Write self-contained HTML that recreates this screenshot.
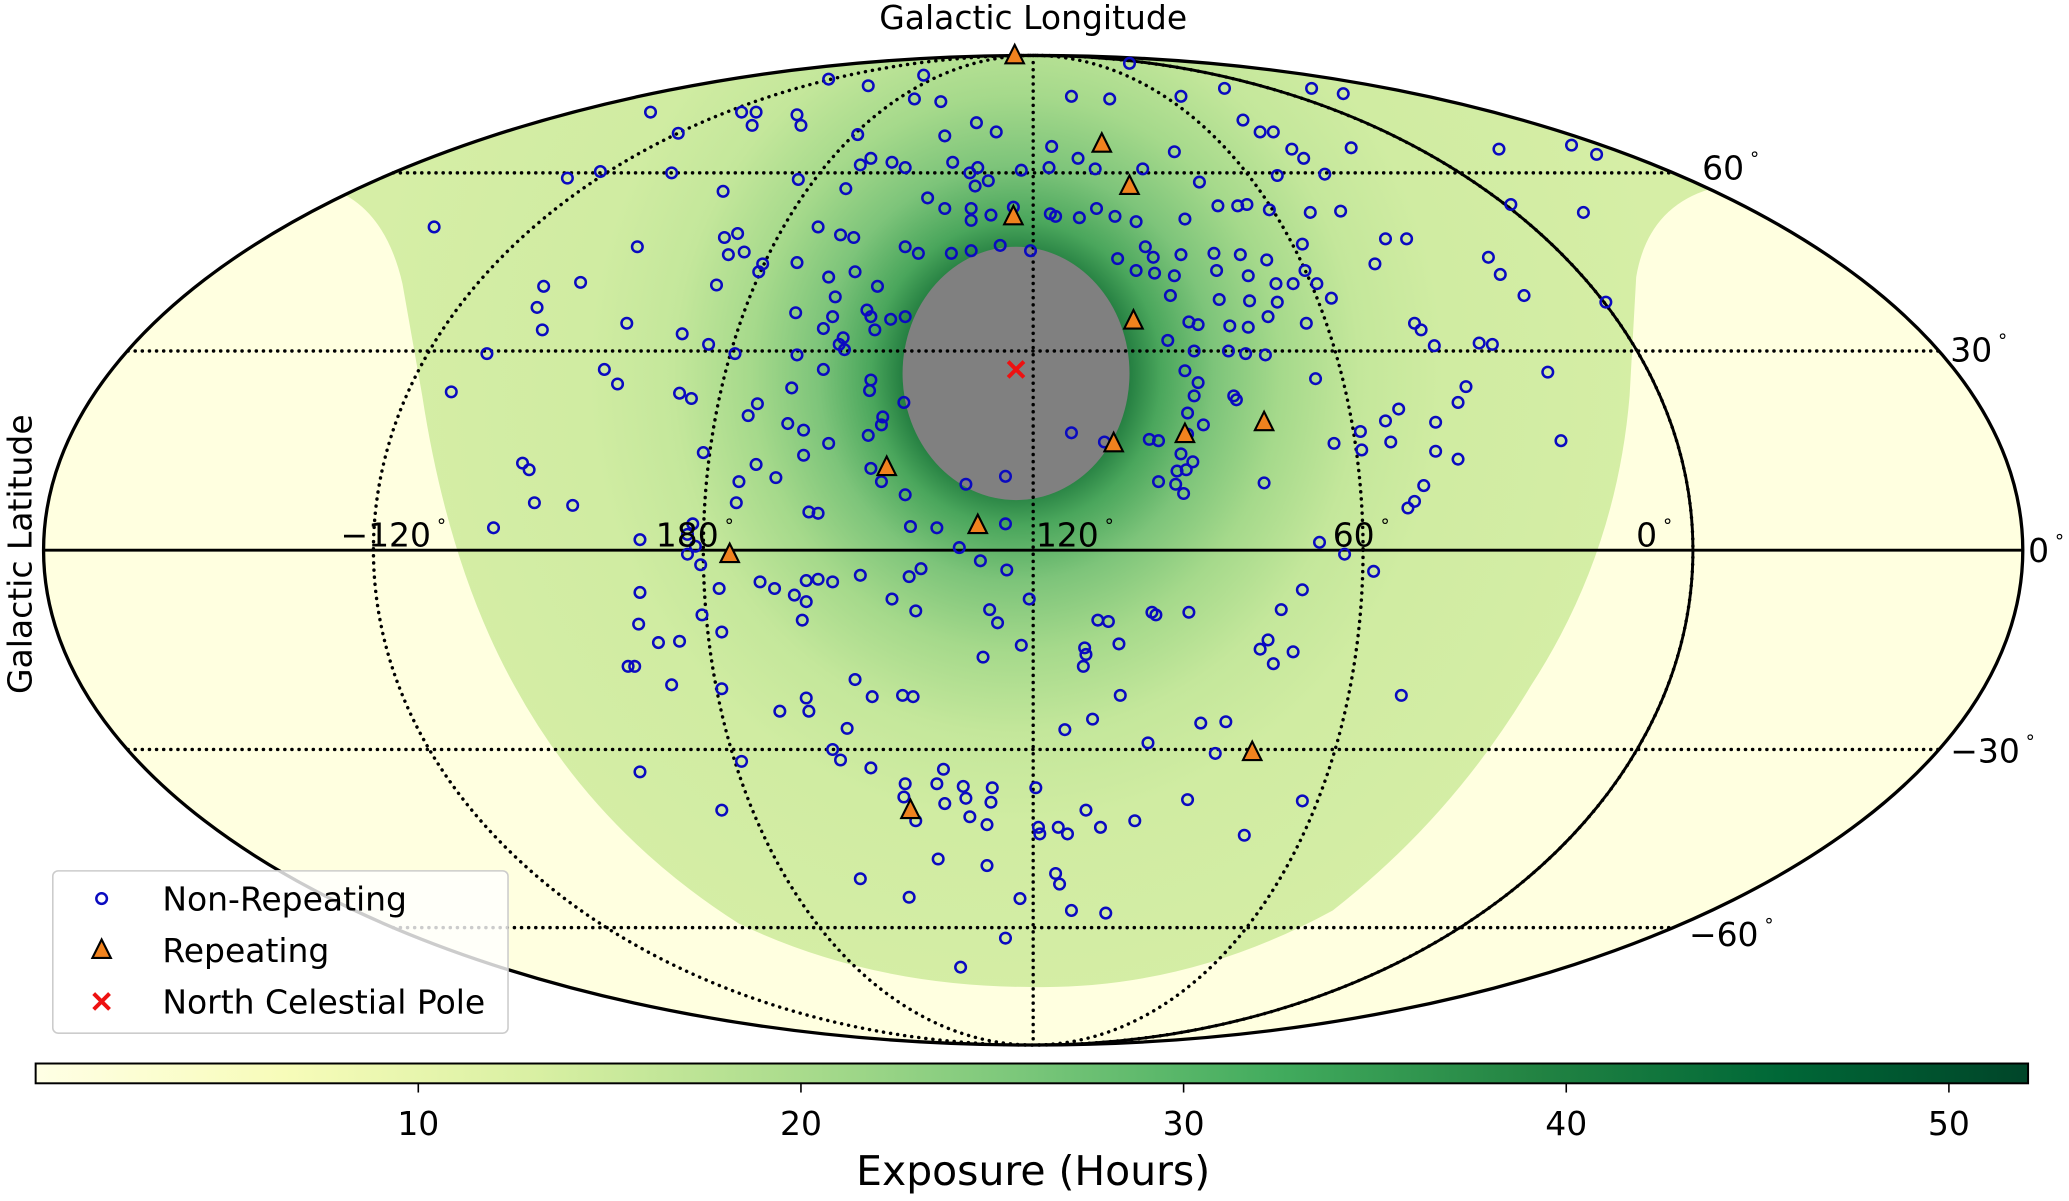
<!DOCTYPE html>
<html><head><meta charset="utf-8"><style>
html,body{margin:0;padding:0;background:#fff;}
svg{display:block;}
text{font-family:"DejaVu Sans","Liberation Sans",sans-serif;fill:#000;}
</style></head><body>
<svg id="s" width="2069" height="1201" viewBox="0 0 1568 910.2" xmlns="http://www.w3.org/2000/svg">
<defs>
<clipPath id="ell"><ellipse cx="783" cy="417" rx="750" ry="375"/></clipPath>
<radialGradient id="rg" gradientUnits="userSpaceOnUse" cx="770" cy="283" r="500" gradientTransform="translate(770 283) scale(1 1.05) translate(-770 -283)">
<stop offset="0.17" stop-color="#237d40"/>
<stop offset="0.22" stop-color="#4aa65c"/>
<stop offset="0.30" stop-color="#7dc47a"/>
<stop offset="0.40" stop-color="#a5d98b"/>
<stop offset="0.52" stop-color="#c4e79b"/>
<stop offset="0.65" stop-color="#d0eca2"/>
<stop offset="1" stop-color="#d6eea6"/>
</radialGradient>
<linearGradient id="cb" x1="0" x2="1" y1="0" y2="0">
<stop offset="0" stop-color="#ffffe5"/>
<stop offset="0.125" stop-color="#f7fcb9"/>
<stop offset="0.25" stop-color="#d9f0a3"/>
<stop offset="0.375" stop-color="#addd8e"/>
<stop offset="0.5" stop-color="#78c679"/>
<stop offset="0.625" stop-color="#41ab5d"/>
<stop offset="0.75" stop-color="#238443"/>
<stop offset="0.875" stop-color="#006837"/>
<stop offset="1" stop-color="#004529"/>
</linearGradient>
</defs>
<ellipse cx="783" cy="417" rx="750" ry="375" fill="#ffffe0"/>
<g clip-path="url(#ell)">
<path d="M0,0 H1568 V138 L1310,140 Q1250,150 1240,210 L1235,300 Q1225,420 1160,520 Q1100,620 1010,690 Q900,750 783,748 Q660,748 560,700 Q450,630 390,520 Q340,430 320,300 L305,215 Q290,150 240,140 L0,138 Z" fill="url(#rg)"/>
</g>
<ellipse cx="770" cy="283" rx="86" ry="96" fill="#808080"/>
<g fill="none" stroke="#000" stroke-width="2.6" stroke-dasharray="0.1 5.3" stroke-linecap="round">
<line x1="783" y1="42" x2="783" y2="792"/>
<ellipse cx="783" cy="417" rx="250" ry="375"/>
<ellipse cx="783" cy="417" rx="500" ry="375"/>
<line x1="97" y1="266" x2="1469" y2="266"/>
<line x1="97" y1="568" x2="1469" y2="568"/>
<line x1="298" y1="131" x2="1268" y2="131"/>
<line x1="298" y1="703" x2="1268" y2="703"/>
</g>
<path d="M783,42 A500,375 0 0 1 783,792" fill="none" stroke="#000" stroke-width="2.2"/>
<line x1="33" y1="417" x2="1533" y2="417" stroke="#000" stroke-width="2.2"/>
<ellipse cx="783" cy="417" rx="750" ry="375" fill="none" stroke="#000" stroke-width="2.5"/>
<g id="dots" fill="none" stroke="#0a0ac0" stroke-width="1.9"></g>
<g id="tris" fill="#f0821e" stroke="#000" stroke-width="1.6"></g>
<g stroke="#ee1111" stroke-width="3"><line x1="764" y1="274" x2="776" y2="286"/><line x1="776" y1="274" x2="764" y2="286"/></g>
<g font-size="25">
<text x="783" y="22" text-anchor="middle">Galactic Longitude</text>
<text transform="translate(24 420) rotate(-90)" text-anchor="middle">Galactic Latitude</text>
<text x="1290" y="136">60<tspan font-size="14" dy="-11"> °</tspan></text>
<text x="1478" y="274">30<tspan font-size="14" dy="-11"> °</tspan></text>
<text x="1537" y="426">0<tspan font-size="14" dy="-11"> °</tspan></text>
<text x="1478" y="578">−30<tspan font-size="14" dy="-11"> °</tspan></text>
<text x="1280" y="717">−60<tspan font-size="14" dy="-11"> °</tspan></text>
<text x="258" y="414">−120<tspan font-size="14" dy="-11"> °</tspan></text>
<text x="497" y="414">180<tspan font-size="14" dy="-11"> °</tspan></text>
<text x="785" y="414">120<tspan font-size="14" dy="-11"> °</tspan></text>
<text x="1010" y="414">60<tspan font-size="14" dy="-11"> °</tspan></text>
<text x="1240" y="414">0<tspan font-size="14" dy="-11"> °</tspan></text>
</g>
<rect x="40" y="660" width="345" height="123" rx="4" fill="#fff" fill-opacity="0.8" stroke="#ccc" stroke-width="1.2"/>
<circle cx="77" cy="681" r="4" fill="none" stroke="#0a0ac0" stroke-width="1.9"/>
<path d="M77,712 L84,726 L70,726 Z" fill="#f0821e" stroke="#000" stroke-width="1.6"/>
<g stroke="#ee1111" stroke-width="3"><line x1="71" y1="753" x2="83" y2="765"/><line x1="83" y1="753" x2="71" y2="765"/></g>
<g font-size="25">
<text x="123" y="690">Non-Repeating</text>
<text x="123" y="729">Repeating</text>
<text x="123" y="768">North Celestial Pole</text>
</g>
<rect x="27" y="806" width="1510" height="15" fill="url(#cb)" stroke="#000" stroke-width="1.5"/>
<g stroke="#000" stroke-width="1.2">
<line x1="317" y1="821" x2="317" y2="828"/><line x1="607" y1="821" x2="607" y2="828"/><line x1="897" y1="821" x2="897" y2="828"/><line x1="1187" y1="821" x2="1187" y2="828"/><line x1="1477" y1="821" x2="1477" y2="828"/>
</g>
<g font-size="25" text-anchor="middle">
<text x="317" y="860">10</text><text x="607" y="860">20</text><text x="897" y="860">30</text><text x="1187" y="860">40</text><text x="1477" y="860">50</text>
</g>
<text x="783" y="898" font-size="31" text-anchor="middle">Exposure (Hours)</text>
</svg>
<script>
var D=[628,60,658,65,700,57,713,77,693,75,856,48,812,73,841,75,895,73,928,67,994,67,1018,71,
493,85,562,85,573,85,570,95,604,87,607,95,514,101,650,102,660,120,716,103,740,93,722,123,755,100,797,111,817,120,830,128,890,115,942,91,955,100,965,100,979,113,988,120,1024,112,1004,132,1136,113,1191,110,1210,117,
430,135,455,130,509,131,548,145,605,136,641,143,652,125,676,123,686,127,735,131,741,127,749,137,739,141,774,129,795,127,866,128,909,138,968,133,1016,160,923,156,938,156,945,155,962,159,993,161,1145,155,1200,161,703,150,716,158,736,158,736,167,751,163,768,157,796,162,800,164,818,165,831,158,845,164,898,166,
329,172,483,187,559,177,549,180,552,193,564,191,620,172,637,178,647,180,686,187,696,192,721,192,736,190,758,186,781,190,861,168,868,187,874,195,895,193,920,192,940,193,960,197,987,185,1050,181,1066,181,1042,200,1128,195,1137,208,1155,224,1217,229,578,200,575,206,543,216,412,217,440,214,604,199,628,210,648,206,665,217,657,235,633,225,603,237,631,240,847,196,861,205,875,207,890,209,922,205,946,209,967,215,989,205,980,215,998,215,1009,226,990,245,968,229,947,228,924,227,901,244,887,224,
342,297,369,268,407,233,411,250,458,280,468,291,475,245,517,253,557,268,537,261,604,269,624,249,636,261,639,256,640,265,624,280,660,240,663,250,675,242,686,240,660,288,659,296,600,294,931,266,944,268,959,269,932,247,946,248,961,240,1072,245,1077,250,1087,262,1131,261,1121,260,1111,293,1173,282,997,287,905,266,885,258,898,281,908,246,
515,298,524,302,574,306,567,315,597,321,609,326,628,336,609,345,668,322,658,330,669,316,685,305,908,290,905,300,900,313,935,300,937,303,912,322,900,329,899,356,904,350,1011,336,1031,327,1050,319,1054,335,1088,320,1105,305,1060,310,1088,342,1183,334,396,351,401,356,533,343,573,352,560,365,588,362,558,381,613,388,660,355,668,365,686,375,732,367,762,361,812,328,837,335,871,333,878,334,895,344,878,365,891,367,897,374,958,366,1032,341,1079,368,1072,380,1067,385,1105,348,
405,381,434,383,374,400,485,409,525,397,521,405,527,414,620,389,690,399,710,400,762,397,1000,411,1019,420,1041,433,892,357,
521,420,531,428,545,446,576,441,587,446,602,451,611,440,620,439,631,441,611,456,652,436,689,437,698,431,743,425,727,415,763,432,485,449,484,473,499,487,515,486,532,466,547,479,608,470,676,454,694,463,750,462,756,472,780,454,832,470,840,471,873,464,876,466,901,464,987,447,971,462,961,485,955,492,980,494,965,503,745,498,774,489,822,491,823,496,821,505,848,488,1062,527,
476,505,481,505,509,519,547,522,591,539,613,539,648,515,661,528,684,527,692,528,642,552,611,529,631,568,637,576,660,582,562,577,547,614,485,585,686,594,685,604,710,594,715,583,730,596,732,605,751,608,752,597,735,619,716,609,748,625,785,597,807,553,828,545,849,527,870,563,910,548,929,547,921,571,900,606,943,633,987,607,787,627,788,632,802,627,809,632,823,614,834,627,860,622,694,622,
652,666,689,680,711,651,748,656,773,681,800,662,803,670,812,690,838,692,762,711,728,733];
var T=[769,42,835,109,856,141,768,164,859,243,958,320,898,329,844,336,672,354,741,398,553,420,949,570,690,614];
var ns="http://www.w3.org/2000/svg",g=document.getElementById("dots"),t=document.getElementById("tris");
for(var i=0;i<D.length;i+=2){var c=document.createElementNS(ns,"circle");c.setAttribute("cx",D[i]);c.setAttribute("cy",D[i+1]);c.setAttribute("r",4);g.appendChild(c);}
for(var i=0;i<T.length;i+=2){var p=document.createElementNS(ns,"path"),x=T[i],y=T[i+1];p.setAttribute("d","M"+x+","+(y-8)+" L"+(x+7)+","+(y+6)+" L"+(x-7)+","+(y+6)+" Z");t.appendChild(p);}
</script>
</body></html>
